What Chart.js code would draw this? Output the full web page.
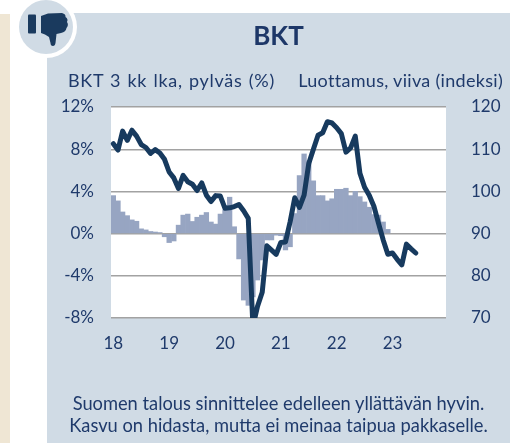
<!DOCTYPE html>
<html lang="fi">
<head>
<meta charset="utf-8">
<script src="https://cdn.jsdelivr.net/npm/chart.js@4"></script>
<style>
html,body{margin:0;padding:0;background:#fff;width:510px;height:443px;overflow:hidden}
body{position:relative;font-family:Lato,sans-serif;color:#1f3a6b}
.abs{position:absolute;white-space:nowrap}
#strip{left:0;top:14px;width:10px;height:429px;background:#efe6d4}
#panel{left:47px;top:13px;width:463px;height:430px;background:#d0dbe5}
#chart{position:absolute;left:0;top:0}
#title{left:47px;width:463px;top:18px;text-align:center;font-size:26px;font-weight:700;line-height:34px;color:#1d3768}
#capL{left:68px;top:70px;font-size:18px;line-height:20px;letter-spacing:.7px;word-spacing:1px}
#capR{right:7px;top:70px;font-size:18px;line-height:20px;letter-spacing:.3px}
#foot{left:47px;width:463px;top:393px;text-align:center;font-size:18.3px;line-height:21.5px}
#icon{left:0;top:0}
</style>
</head>
<body>
<div class="abs" id="strip"></div>
<div class="abs" id="panel"></div>
<svg class="abs" id="icon" width="90" height="65" viewBox="0 0 90 65">
  <circle cx="46" cy="27" r="31" fill="#fff"/>
  <circle cx="46" cy="27" r="27" fill="#d0dbe5"/>
  <rect x="28" y="14.5" width="8" height="19" rx="1" fill="#1a3a5e"/>
  <path d="M41 16 L48 13.5 L62 13 Q66 14 65.5 17 Q68.5 19 67 22 Q69 25 66.5 28 Q66 32 61 33 L56.5 34 L55.5 43 Q55 46 53 46 Q50.5 46 50.5 43 L49 37 Q45 34 41 33 Z" fill="#1a3a5e"/>
</svg>
<canvas id="chart" width="510" height="443"></canvas>
<div class="abs" id="title">BKT</div>
<div class="abs" id="capL">BKT 3 kk lka, pylväs (%)</div>
<div class="abs" id="capR">Luottamus, viiva (indeksi)</div>
<div class="abs" id="foot">Suomen talous sinnittelee edelleen yllättävän hyvin.<br>Kasvu on hidasta, mutta ei meinaa taipua pakkaselle.</div>
<script>
const years = ['18','19','20','21','22','23'];
const monthsPerYear = 12;
const categories = years.flatMap(y => Array.from({length: monthsPerYear}, (_, m) => m === 0 ? y : ''));

const gdpGrowth = [
  3.6, 3.1, 2.05, 1.7, 1.3, 1.17, 0.45, 0.35, 0.2, 0.15, 0.1, -0.3,
  -0.85, -0.7, 0.8, 1.75, 1.85, 1.15, 1.55, 1.75, 2.0, 1.1, 0.9, 1.85,
  2.25, 3.45, 0.65, -2.4, -6.3, -6.8, -6.0, -4.4, -2.5, -0.6, -0.6, -0.15,
  -0.2, -1.55, -1.25, 1.9, 5.5, 7.55, 6.9, 5.0, 3.6, 3.6, 3.1, 3.3,
  4.2, 4.2, 4.3, 3.6, 4.0, 3.5, 3.0, 2.5, 1.8, 1.75, 1.1, 0.4
];
const confidence = [
  111.3, 109.8, 114.3, 112.1, 114.5, 113.1, 111.1, 110.4, 109.0, 109.9, 109.1, 107.6,
  104.6, 103.2, 100.7, 103.8, 102.3, 101.7, 100.2, 102.0, 99.1, 97.6, 99.0, 98.9,
  96.0, 96.1, 96.4, 96.9, 95.4, 93.6, 68.0, 72.8, 76.1, 87.1, 86.1, 85.1,
  87.9, 88.0, 92.8, 98.5, 96.2, 99.1, 106.6, 110.0, 113.3, 113.9, 116.5, 116.2,
  115.1, 113.7, 109.3, 110.3, 113.1, 104.3, 101.0, 99.1, 96.5, 92.4, 88.5, 85.1,
  85.4, 83.9, 82.6, 87.5, 86.4, 85.4
];
const leftTicks = [-8, -4, 0, 4, 8, 12];
const rightTicks = [70, 80, 90, 100, 110, 120];

const navy = '#1f3a6b';
const tickFont = {family: 'Lato', size: 17};

const plotBackground = {
  id: 'plotBackground',
  beforeDraw(chart) {
    const a = chart.chartArea;
    chart.ctx.save();
    chart.ctx.fillStyle = '#fff';
    chart.ctx.fillRect(a.left, a.top, a.right - a.left, a.bottom - a.top);
    chart.ctx.restore();
  }
};

new Chart(document.getElementById('chart'), {
  type: 'bar',
  plugins: [plotBackground],
  data: {
    labels: categories,
    datasets: [
      {type: 'line', label: 'Luottamus', data: confidence, yAxisID: 'y1', order: 0,
       borderColor: '#173a5e', borderWidth: 5, pointRadius: 0, tension: 0,
       borderJoinStyle: 'round', borderCapStyle: 'round', fill: false},
      {type: 'bar', label: 'BKT', data: gdpGrowth, yAxisID: 'y', order: 1,
       backgroundColor: '#97a5c2', borderWidth: 0, barPercentage: 1, categoryPercentage: 1}
    ]
  },
  options: {
    responsive: false,
    animation: false,
    devicePixelRatio: 1,
    layout: {padding: {top: 107, bottom: 85, left: 0, right: 0}},
    plugins: {legend: {display: false}, tooltip: {enabled: false}},
    scales: {
      x: {
        grid: {display: false}, border: {display: false},
        ticks: {autoSkip: false, maxRotation: 0, minRotation: 0, color: navy, font: tickFont, padding: 7},
        afterFit(s) { s.height = 40; }
      },
      y: {
        position: 'left', min: -8, max: 12,
        afterBuildTicks(s) { s.ticks = leftTicks.map(v => ({value: v})); },
        grid: {color: '#a2a2a2', lineWidth: 1.4, drawTicks: false}, border: {display: false},
        ticks: {color: navy, font: tickFont, padding: 17, callback: v => v + '%'},
        afterFit(s) { s.width = 111; }
      },
      y1: {
        position: 'right', min: 70, max: 120,
        afterBuildTicks(s) { s.ticks = rightTicks.map(v => ({value: v})); },
        grid: {display: false}, border: {display: false},
        ticks: {color: navy, font: tickFont, padding: 17},
        afterFit(s) { s.width = 64; }
      }
    }
  }
});
</script>
</body>
</html>
